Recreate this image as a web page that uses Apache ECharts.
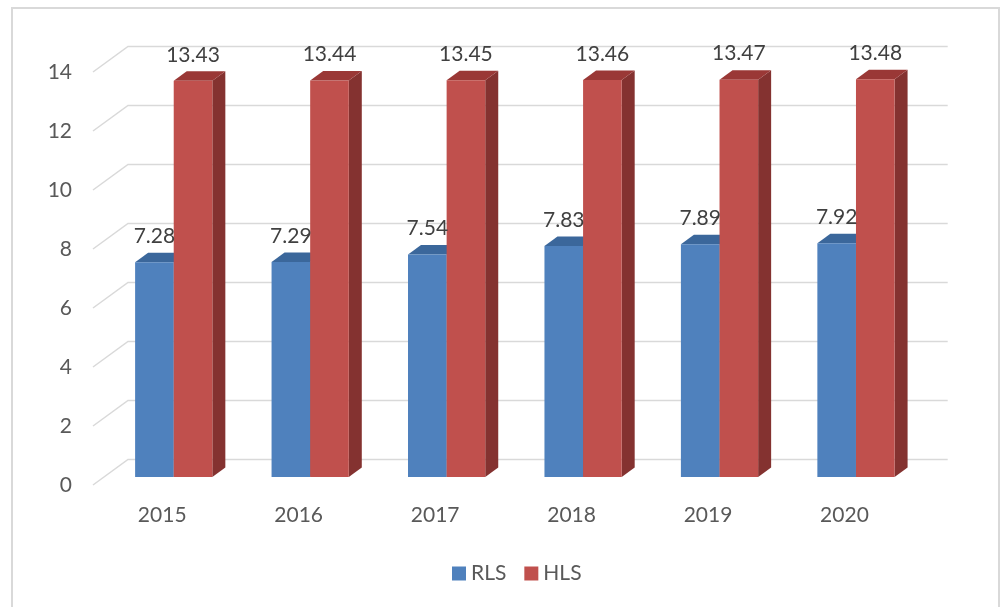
<!DOCTYPE html>
<html>
<head>
<meta charset="utf-8">
<script src="https://cdn.jsdelivr.net/npm/echarts@6/dist/echarts.min.js"></script>
<style>html,body{margin:0;padding:0;background:#fff}#c{width:1003px;height:607px}</style>
</head>
<body>
<div id="c"></div>
<script>
var categories = ['2015', '2016', '2017', '2018', '2019', '2020'];
var rlsValues = [7.28, 7.29, 7.54, 7.83, 7.89, 7.92];
var hlsValues = [13.43, 13.44, 13.45, 13.46, 13.47, 13.48];
var yTicks = [0, 2, 4, 6, 8, 10, 12, 14];

var FONT = 'Lato, "Liberation Sans", sans-serif';
var WALL_DX = 35, WALL_DY = -25.5;   // depth of back wall
var OFF_DX = 11.5, OFF_DY = -8;      // bar front face offset into depth
var BAR_DX = 13, BAR_DY = -9.5;      // bar depth
var BAR_FRAC = 0.283;

function barRenderer(side, cFront, cTop, cSide) {
  return function (params, api) {
    var i = api.value(0), v = api.value(1);
    var top = api.coord([i, v]);
    var bot = api.coord([i, 0]);
    var band = api.size([1, 0])[0];
    var w = band * BAR_FRAC;
    var cx = top[0] + OFF_DX;
    var x0 = side === 0 ? cx - w : cx;
    var x1 = x0 + w;
    var yt = top[1] + OFF_DY, yb = bot[1] + OFF_DY;
    return {
      type: 'group',
      children: [
        { type: 'polygon', shape: { points: [[x1, yt], [x1 + BAR_DX, yt + BAR_DY], [x1 + BAR_DX, yb + BAR_DY], [x1, yb]] }, style: { fill: cSide } },
        { type: 'polygon', shape: { points: [[x0, yt], [x0 + BAR_DX, yt + BAR_DY], [x1 + BAR_DX, yt + BAR_DY], [x1, yt]] }, style: { fill: cTop } },
        { type: 'rect', shape: { x: x0, y: yt, width: w, height: yb - yt }, style: { fill: cFront } },
        { type: 'text', z2: 100, style: { text: v.toFixed(2), x: (x0 + x1) / 2, y: yt - 26, align: 'center', verticalAlign: 'middle', fill: '#404040', font: '21px ' + FONT } }
      ]
    };
  };
}

var chart = echarts.init(document.getElementById('c'));
chart.setOption({
  backgroundColor: '#fff',
  animation: false,
  graphic: [{ type: 'rect', shape: { x: 12, y: 8, width: 987, height: 620 }, style: { fill: 'none', stroke: '#d9d9d9', lineWidth: 2 }, silent: true }],
  grid: { left: 94, right: 90.3, top: 72, bottom: 122 },
  legend: {
    bottom: 18, left: 447, icon: 'rect', itemWidth: 14, itemHeight: 14, itemGap: 18,
    textStyle: { fontSize: 21, color: '#595959', fontFamily: FONT },
    data: [{ name: 'RLS', itemStyle: { color: '#4F81BD' } }, { name: 'HLS', itemStyle: { color: '#C0504D' } }]
  },
  xAxis: {
    type: 'category', data: categories, boundaryGap: true,
    axisLine: { show: false }, axisTick: { show: false },
    axisLabel: { fontSize: 21, color: '#595959', fontFamily: FONT, margin: 20 }
  },
  yAxis: {
    type: 'value', min: 0, max: 14, interval: 2,
    axisLine: { show: false }, axisTick: { show: false }, splitLine: { show: false },
    axisLabel: { fontSize: 21, color: '#595959', fontFamily: FONT, margin: 22 }
  },
  series: [
    {
      type: 'custom', name: 'grid', silent: true, z: 1,
      data: yTicks.map(function (t) { return [0, t]; }),
      renderItem: function (params, api) {
        var cs = params.coordSys;
        var y = api.coord([0, api.value(1)])[1];
        var x0 = cs.x - 1;
        return {
          type: 'polyline',
          shape: { points: [[x0, y], [x0 + WALL_DX, y + WALL_DY], [cs.x + cs.width + WALL_DX, y + WALL_DY]] },
          style: { stroke: '#d9d9d9', lineWidth: 1.5, fill: null }
        };
      }
    },
    {
      type: 'custom', name: 'RLS', z: 2, itemStyle: { color: '#4F81BD' },
      data: rlsValues.map(function (v, i) { return [i, v]; }),
      renderItem: barRenderer(0, '#4F81BD', '#3B679B', '#36608F')
    },
    {
      type: 'custom', name: 'HLS', z: 2, itemStyle: { color: '#C0504D' },
      data: hlsValues.map(function (v, i) { return [i, v]; }),
      renderItem: barRenderer(1, '#C0504D', '#9A3836', '#843230')
    }
  ]
});
</script>
</body>
</html>
